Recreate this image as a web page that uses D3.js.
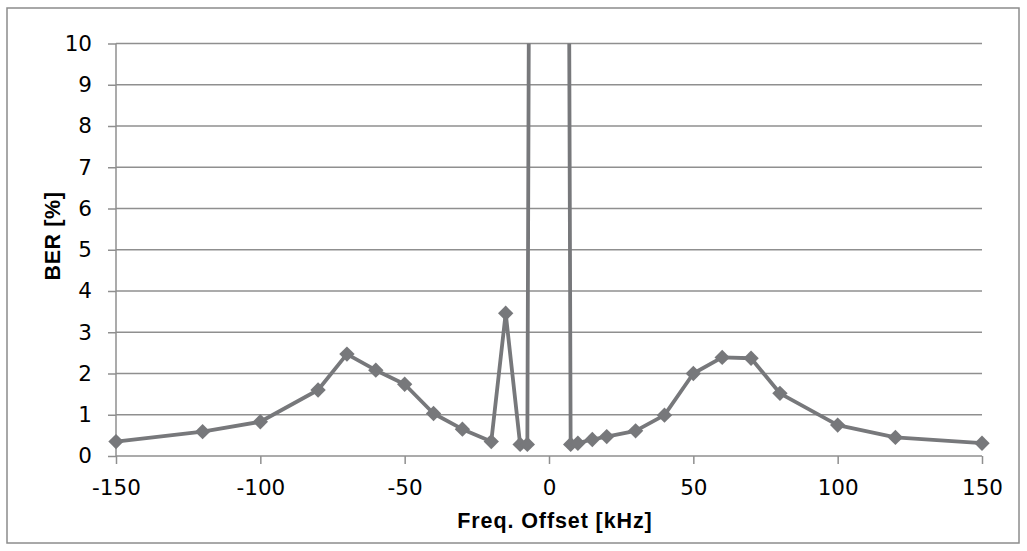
<!DOCTYPE html>
<html>
<head>
<meta charset="utf-8">
<script src="https://cdn.jsdelivr.net/npm/d3@7"></script>
<style>
  html, body { margin: 0; padding: 0; background: #fff; }
  svg { display: block; }
</style>
</head>
<body>
<svg id="chart" width="1027" height="551"></svg>
<script>
// Data
const freqOffset = [-150, -120, -100, -80, -70, -60, -50, -40, -30, -20, -15, -10, -7.5, -5, 0, 5, 7.5, 10, 15, 20, 30, 40, 50, 60, 70, 80, 100, 120, 150];
const berPercent = [0.35, 0.59, 0.83, 1.60, 2.47, 2.08, 1.74, 1.03, 0.65, 0.35, 3.46, 0.28, 0.28, 50, 50, 50, 0.28, 0.31, 0.40, 0.47, 0.61, 0.99, 2.00, 2.39, 2.37, 1.52, 0.75, 0.45, 0.31];
const xTicks = [-150, -100, -50, 0, 50, 100, 150];
const yTicks = [0, 1, 2, 3, 4, 5, 6, 7, 8, 9, 10];
const xTitle = "Freq. Offset [kHz]";
const yTitle = "BER [%]";

const svg = d3.select("#chart");
const mLeft = 116, mRight = 982, mTop = 43.5, mBottom = 456;

const x = d3.scaleLinear().domain([-150, 150]).range([mLeft, mRight]);
const y = d3.scaleLinear().domain([0, 10]).range([mBottom, mTop]);

// outer border
svg.append("rect").attr("x", 7).attr("y", 8).attr("width", 1012).attr("height", 535)
  .attr("fill", "#fff").attr("stroke", "#8c8c8c").attr("stroke-width", 1.5);

// gridlines
svg.append("g").selectAll("line").data(yTicks.filter(d => d > 0)).join("line")
  .attr("x1", mLeft).attr("x2", mRight)
  .attr("y1", d => y(d)).attr("y2", d => y(d))
  .attr("stroke", "#8f8f8f").attr("stroke-width", 1.5);

const fmt = d => String(d);

// y axis
const yAxis = d3.axisLeft(y).tickValues(yTicks).tickSize(8).tickPadding(16).tickFormat(fmt);
const gy = svg.append("g").attr("transform", `translate(${mLeft},0)`).call(yAxis);
gy.select(".domain").attr("stroke", "#8f8f8f").attr("stroke-width", 1.5).attr("d", `M0,${mBottom}V${mTop}`);
gy.selectAll(".tick line").attr("stroke", "#8f8f8f").attr("stroke-width", 1.5);
gy.selectAll(".tick text").attr("font-family", "DejaVu Sans").attr("font-size", 21.5).attr("fill", "#000");

// x axis
const xAxis = d3.axisBottom(x).tickValues(xTicks).tickSize(8).tickPadding(16).tickFormat(fmt);
const gx = svg.append("g").attr("transform", `translate(0,${mBottom})`).call(xAxis);
gx.select(".domain").attr("stroke", "#8f8f8f").attr("stroke-width", 1.5).attr("d", `M${mLeft},0H${mRight}`);
gx.selectAll(".tick line").attr("stroke", "#8f8f8f").attr("stroke-width", 1.5);
gx.selectAll(".tick text").attr("font-family", "DejaVu Sans").attr("font-size", 21.5).attr("fill", "#000");

// clip
svg.append("clipPath").attr("id", "clip").append("rect")
  .attr("x", mLeft - 12).attr("y", mTop).attr("width", mRight - mLeft + 24).attr("height", mBottom - mTop + 12);

const data = freqOffset.map((f, i) => ({ f, v: berPercent[i] }));
const plot = svg.append("g").attr("clip-path", "url(#clip)");
const line = d3.line().x(d => x(d.f)).y(d => y(d.v));
plot.append("path").datum(data).attr("d", line)
  .attr("fill", "none").attr("stroke", "#77787b").attr("stroke-width", 3.8).attr("stroke-linejoin", "round");

const sym = d3.symbol().type(d3.symbolDiamond2).size(150);
plot.selectAll("path.pt").data(data.filter(d => d.v <= 10)).join("path").attr("class", "pt")
  .attr("transform", d => `translate(${x(d.f)},${y(d.v)})`)
  .attr("d", sym).attr("fill", "#77787b");

// titles
svg.append("text").attr("x", 555).attr("y", 528).attr("text-anchor", "middle")
  .attr("font-family", "Liberation Sans").attr("font-weight", "bold").attr("font-size", 21.5)
  .attr("letter-spacing", 0.9).attr("fill", "#000").text(xTitle);
svg.append("text").attr("transform", "translate(60,236) rotate(-90)").attr("text-anchor", "middle")
  .attr("font-family", "Liberation Sans").attr("font-weight", "bold").attr("font-size", 21.5)
  .attr("letter-spacing", 0.6).attr("fill", "#000").text(yTitle);
</script>
</body>
</html>
